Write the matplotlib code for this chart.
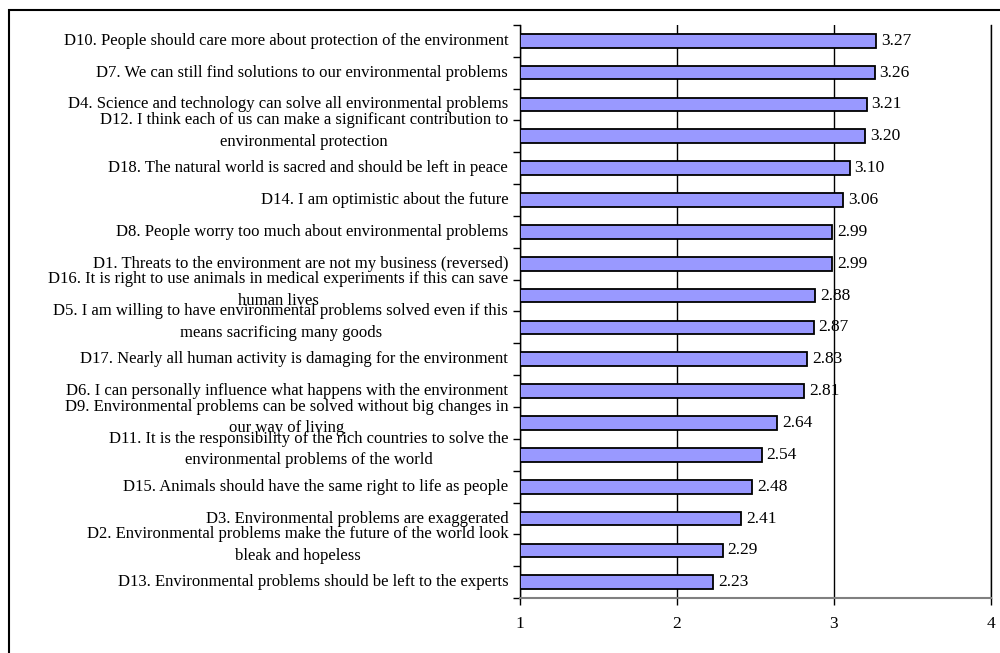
import numpy as np
import matplotlib
matplotlib.use("Agg")
import matplotlib.pyplot as plt
from matplotlib.patches import Rectangle


labels = [
    "D10. People should care more about protection of the environment",
    "D7. We can still find solutions to our environmental problems",
    "D4. Science and technology can solve all environmental problems",
    "D12. I think each of us can make a significant contribution to\nenvironmental protection",
    "D18. The natural world is sacred and should be left in peace",
    "D14. I am optimistic about the future",
    "D8. People worry too much about environmental problems",
    "D1. Threats to the environment are not my business (reversed)",
    "D16. It is right to use animals in medical experiments if this can save\nhuman lives",
    "D5. I am willing to have environmental problems solved even if this\nmeans sacrificing many goods",
    "D17. Nearly all human activity is damaging for the environment",
    "D6. I can personally influence what happens with the environment",
    "D9. Environmental problems can be solved without big changes in\nour way of living",
    "D11. It is the responsibility of the rich countries to solve the\nenvironmental problems of the world",
    "D15. Animals should have the same right to life as people",
    "D3. Environmental problems are exaggerated",
    "D2. Environmental problems make the future of the world look\nbleak and hopeless",
    "D13. Environmental problems should be left to the experts",
]
values = [3.27, 3.26, 3.21, 3.20, 3.10, 3.06, 2.99, 2.99, 2.88, 2.87,
          2.83, 2.81, 2.64, 2.54, 2.48, 2.41, 2.29, 2.23]
x_ticks = [1, 2, 3, 4]

plt.rcParams['font.family'] = ['Liberation Serif', 'DejaVu Serif']

fig = plt.figure(figsize=(10, 6.53), dpi=100)
ax = fig.add_axes([0.52, 0.084, 0.471, 0.878])

n = len(values)
y = np.arange(n)
base = 1
ax.barh(y, np.array(values) - base, left=base, height=0.43,
        color='#9999FF', edgecolor='black', linewidth=1.3, zorder=3)

for yi, v in zip(y, values):
    ax.text(v + 0.03, yi, f"{v:.2f}", va='center', ha='left', fontsize=12.5, zorder=4)

ax.set_xlim(1, 4)
ax.set_ylim(n - 0.5, -0.5)
ax.set_xticks(x_ticks)
ax.set_xticklabels([str(t) for t in x_ticks], fontsize=12.5)
ax.tick_params(axis='x', length=5, width=1, pad=8)

# category labels, tick marks at category boundaries
ax.set_yticks(y)
ax.set_yticklabels([])
ax.tick_params(axis='y', which='major', length=0)
ax.set_yticks(np.arange(n + 1) - 0.5, minor=True)
ax.tick_params(axis='y', which='minor', length=5, width=1, direction='out')
for yi, lab in zip(y, labels):
    off = -0.17 if "\n" in lab else 0
    ax.text(-0.025, yi + off, lab, transform=ax.get_yaxis_transform(),
            ha='right', va='center', multialignment='center',
            fontsize=12, linespacing=1.45)

ax.grid(axis='x', color='black', linewidth=1, zorder=0)
ax.axvline(4, color='black', linewidth=1, clip_on=False, zorder=1)
ax.spines['top'].set_visible(False)
ax.spines['right'].set_visible(False)
ax.spines['left'].set_linewidth(1)
ax.spines['bottom'].set_color('#808080')
ax.spines['bottom'].set_linewidth(1.5)

# outer chart border
fig.patches.append(Rectangle((0.009, -0.05), 1.2, 1.035, transform=fig.transFigure,
                             fill=False, edgecolor='black', linewidth=1.5))

fig.savefig("out.png", dpi=100)
